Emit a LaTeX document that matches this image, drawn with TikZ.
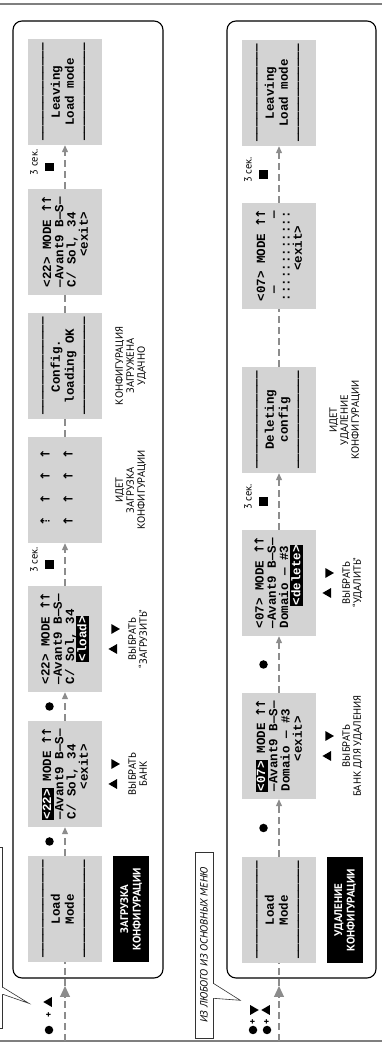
\documentclass[tikz,border=0pt]{standalone}
\usepackage{fontspec}
\setmainfont{PT Sans}
\setmonofont{Liberation Mono}
\newfontfamily\arrowfont{DejaVu Sans}
\usetikzlibrary{shapes.geometric, arrows.meta, calc}

\definecolor{lcdgray}{HTML}{D3D3D3}
\definecolor{flowgray}{HTML}{8C8C8C}
\definecolor{rulegray}{HTML}{7F7F7F}

% inverted (selected) field on the display
\newcommand{\inv}[1]{{\setlength{\fboxsep}{0.8pt}\kern-0.8pt\colorbox{black}{\color{white}\rule[-2.4pt]{0pt}{10.4pt}#1}\kern-0.8pt}}
\newcommand{\dashrow}{—————————————}
% one display cell with an arrow
\newcommand{\arw}{\makebox[7.5pt]{\arrowfont ↑}}
\newcommand{\arwpart}{\makebox[7.5pt]{\arrowfont ⇡}}

\begin{document}
\begin{tikzpicture}[x=1pt, y=1pt,
  lcd/.style={fill=lcdgray, minimum width=106pt, minimum height=74pt, inner sep=0pt, font=\fontsize{12.5}{12.2}\selectfont\ttfamily\bfseries},
  lcdmenu/.style={lcd, align=left},
  lcdmsg/.style={lcd, align=center, font=\fontsize{12.5}{13.8}\selectfont\ttfamily\bfseries},
  lcdtxt/.style={inner sep=0pt, align=center, font=\fontsize{12.5}{23}\selectfont\ttfamily\bfseries},
  panel/.style={draw=black, line width=1.1pt, rounded corners=9pt},
  flow/.style={draw=flowgray, line width=1.1pt, dash pattern=on 7pt off 4pt},
  headsmall/.style={-{Triangle[length=7pt, width=6pt]}},
  headbig/.style={-{Triangle[length=11pt, width=10pt]}},
  pressdot/.style={circle, fill=black, inner sep=0pt, minimum size=8.5pt},
  pressup/.style={regular polygon, regular polygon sides=3, fill=black, inner sep=0pt, minimum size=11.5pt},
  pressdown/.style={pressup, shape border rotate=180},
  plussign/.style={inner sep=0pt, font=\fontsize{10}{10}\selectfont\bfseries},
  holdsq/.style={fill=black, inner sep=0pt, minimum size=8.5pt},
  secs/.style={inner sep=0pt, font=\fontsize{10.5}{10.5}\selectfont},
  capt/.style={inner sep=0pt, align=center, anchor=north, font=\fontsize{10.5}{11}\selectfont},
  sectag/.style={fill=black, text=white, minimum width=106pt, minimum height=36pt, inner sep=0pt, align=center, font=\fontsize{11}{12.5}\selectfont\bfseries},
  callout/.style={draw=black!80, line width=0.6pt, inner sep=0pt, font=\fontsize{10.5}{10.5}\selectfont\itshape}]

\useasboundingbox (0,0) rectangle (382,1045);
\begin{scope}[rotate=90, transform shape]

% frame lines
\draw[rulegray, line width=1.5pt] (4,0) -- (4,-382);
\draw[rulegray, line width=1.5pt] (1041,0) -- (1041,-382);

% ---- load configuration
\begin{scope}
\clip (0,0) rectangle (1045,-382);
\node[callout, minimum width=181pt, minimum height=24pt] (from1) at (107.5,9.5) {};
\fill[white] ($(from1.south west)+(34.3,0.6)$) -- ($(from1.south west)+(25,-26)$) -- ($(from1.south west)+(40.7,0.6)$) -- cycle;
\draw[black!80, line width=0.6pt] ($(from1.south west)+(34,0)$) -- ($(from1.south west)+(25,-26)$) -- ($(from1.south west)+(41,0)$);
\end{scope}

\node[pressdot] (k1) at (15,-49) {};
\node[plussign] (p1) at (30,-49) {+};
\node[pressup] (a1) at (43,-49) {};

\draw[panel] (67,-13) rectangle (1024,-163);

\node[lcdmsg] (lm1) at (136,-65) {\dashrow\\Load\\Mode\\\dashrow};
\node[lcdmenu] (ex1) at (271,-65) {\inv{<22>} MODE \arw\arw\\—Avant9 B—S—\\C/ Sol, 34\\\phantom{0000}<exit>};
\node[lcdmenu] (ld1) at (406,-65) {<22> MODE \arw\arw\\—Avant9 B—S—\\C/ Sol, 34\\\phantom{000}\inv{<load>}};
\node[lcd] (pg1) at (555,-65) {};
\node[lcdtxt] (pg1t) at (557,-56.5) {\arwpart\ \ \arw\ \ \arw\ \ \arw\\\arw\ \ \arw\ \ \arw\ \ \arw};
\node[lcdmsg] (ok1) at (679,-65) {\dashrow\\Config.\\loading OK\\\dashrow};
\node[lcdmenu] (md1) at (803,-65) {<22> MODE \arw\arw\\—Avant9 B—S—\\C/ Sol, 34\\\phantom{0000}<exit>};
\node[lcdmsg] (lv1) at (953,-65) {\dashrow\\Leaving\\Load mode\\\dashrow};

\coordinate (in1) at (4,-65);
\coordinate (gate1) at (59,-65);
\draw[flow, headbig] (in1) -- (gate1);
\draw[flow] (gate1) -- (lm1);
\draw[flow, headsmall] (lm1) -- (ex1);
\draw[flow, headsmall] (ex1) -- (ld1);
\draw[flow, headsmall] (ld1) -- (pg1);
\draw[flow] (pg1) -- (ok1);
\draw[flow] (ok1) -- (md1);
\draw[flow, headsmall] (md1) -- (lv1);

\node[pressdot] (b11) at ($(lm1.east)!0.5!(ex1.west)+(0,15.5)$) {};
\node[pressdot] (b12) at ($(ex1.east)!0.5!(ld1.west)+(0,15.5)$) {};
\node[holdsq] (h11) at ($(ld1.east)!0.5!(pg1.west)+(0,15.5)$) {};
\node[secs] (s11) at ($(h11)+(4.5,15.5)$) {3 сек.};
\node[holdsq] (h12) at ($(md1.east)!0.5!(lv1.west)+(0,15.5)$) {};
\node[secs] (s12) at ($(h12)+(4.5,15.5)$) {3 сек.};

\node[sectag] (t1) at ($(lm1.south)+(0,-29)$) {ЗАГРУЗКА\\КОНФИГУРАЦИИ};
\node[pressup] (u11) at ($(ex1.south)+(-10,-12)$) {};
\node[pressdown] (d11) at ($(ex1.south)+(10,-12)$) {};
\node[capt] (c11) at ($(ex1.south)+(0,-26)$) {ВЫБРАТЬ\\БАНК};
\node[pressup] (u12) at ($(ld1.south)+(-10,-12)$) {};
\node[pressdown] (d12) at ($(ld1.south)+(10,-12)$) {};
\node[capt] (c12) at ($(ld1.south)+(0,-26)$) {ВЫБРАТЬ\\“ЗАГРУЗИТЬ”};
\node[capt] (c13) at ($(pg1.south)+(0,-13)$) {ИДЕТ\\ЗАГРУЗКА\\КОНФИГУРАЦИИ};
\node[capt] (c14) at ($(ok1.south)+(0,-13)$) {КОНФИГУРАЦИЯ\\ЗАГРУЖЕНА\\УДАЧНО};

% ---- delete configuration
\node[callout, minimum width=186pt, minimum height=18pt] (from2) at (100,-204) {ИЗ ЛЮБОГО ИЗ ОСНОВНЫХ МЕНЮ};
\fill[white] ($(from2.south west)+(40.3,0.6)$) -- ($(from2.south west)+(38,-27)$) -- ($(from2.south west)+(54.7,0.6)$) -- cycle;
\draw[black!80, line width=0.6pt] ($(from2.south west)+(40,0)$) -- ($(from2.south west)+(38,-27)$) -- ($(from2.south west)+(55,0)$);

\node[pressdot] (k21) at (15,-253) {};
\node[plussign] (p21) at (23,-253) {+};
\node[pressdown] (a21) at (35,-253) {};
\node[pressdot] (k22) at (15,-267) {};
\node[plussign] (p22) at (23,-267) {+};
\node[pressup] (a22) at (35,-267) {};

\draw[panel] (67,-227) rectangle (1024,-376);

\node[lcdmsg] (lm2) at (135,-279) {\dashrow\\Load\\Mode\\\dashrow};
\node[lcdmenu] (ex2) at (299,-279) {\inv{<07>} MODE \arw\arw\\—Avant9 B—S—\\Domaio — \#3\\\phantom{0000}<exit>};
\node[lcdmenu] (dl2) at (462,-279) {<07> MODE \arw\arw\\—Avant9 B—S—\\Domaio — \#3\\\phantom{000}\inv{<delete>}};
\node[lcdmsg] (pg2) at (625,-279) {\dashrow\\Deleting\\config\\\dashrow};
\node[lcdmenu] (md2) at (789,-279) {<07> MODE \arw\arw\\\phantom{0}—\phantom{000000000}—\\::::::::::::\\\phantom{0000}<exit>};
\node[lcdmsg] (lv2) at (952,-279) {\dashrow\\Leaving\\Load mode\\\dashrow};

\coordinate (in2) at (4,-279);
\coordinate (gate2) at (59,-279);
\draw[flow, headbig] (in2) -- (gate2);
\draw[flow] (gate2) -- (lm2);
\draw[flow, headsmall] (lm2) -- (ex2);
\draw[flow, headsmall] (ex2) -- (dl2);
\draw[flow, headsmall] (dl2) -- (pg2);
\draw[flow] (pg2) -- (md2);
\draw[flow, headsmall] (md2) -- (lv2);

\node[pressdot] (b21) at ($(lm2.east)!0.5!(ex2.west)+(0,15.5)$) {};
\node[pressdot] (b22) at ($(ex2.east)!0.5!(dl2.west)+(0,15.5)$) {};
\node[holdsq] (h21) at ($(dl2.east)!0.5!(pg2.west)+(0,15.5)$) {};
\node[secs] (s21) at ($(h21)+(4.5,15.5)$) {3 сек.};
\node[holdsq] (h22) at ($(md2.east)!0.5!(lv2.west)+(0,15.5)$) {};
\node[secs] (s22) at ($(h22)+(4.5,15.5)$) {3 сек.};

\node[sectag] (t2) at ($(lm2.south)+(0,-29)$) {УДАЛЕНИЕ\\КОНФИГУРАЦИИ};
\node[pressup] (u21) at ($(ex2.south)+(-10,-12)$) {};
\node[pressdown] (d21) at ($(ex2.south)+(10,-12)$) {};
\node[capt] (c21) at ($(ex2.south)+(0,-26)$) {ВЫБРАТЬ\\БАНК ДЛЯ УДАЛЕНИЯ};
\node[pressup] (u22) at ($(dl2.south)+(-10,-12)$) {};
\node[pressdown] (d22) at ($(dl2.south)+(10,-12)$) {};
\node[capt] (c22) at ($(dl2.south)+(0,-26)$) {ВЫБРАТЬ\\“УДАЛИТЬ”};
\node[capt] (c23) at ($(pg2.south)+(0,-13)$) {ИДЕТ\\УДАЛЕНИЕ\\КОНФИГУРАЦИИ};

\end{scope}
\end{tikzpicture}
\end{document}
